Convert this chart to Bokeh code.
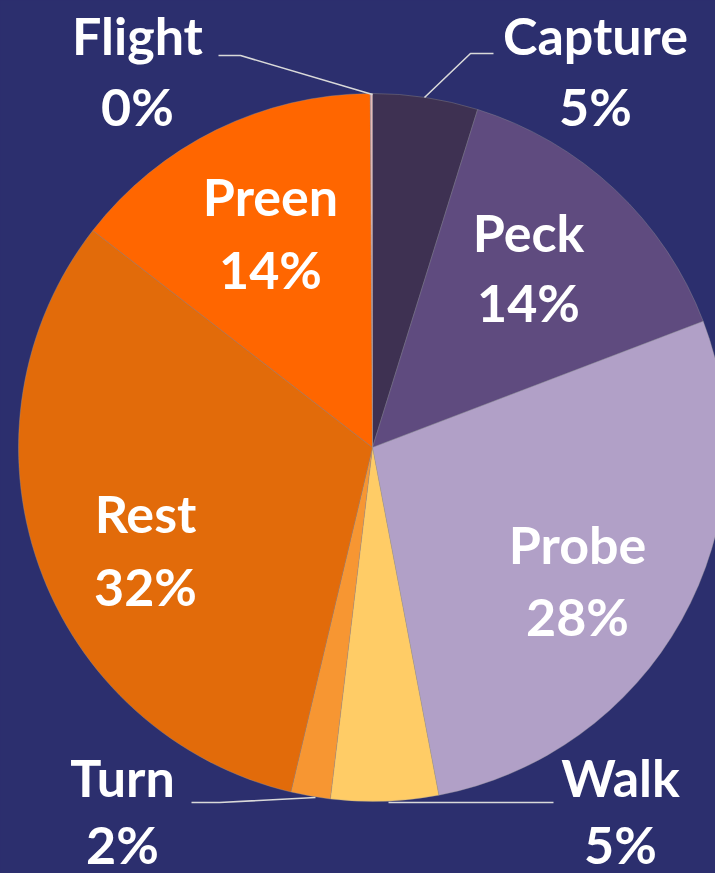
import math
from bokeh.plotting import figure
from bokeh.models import ColumnDataSource, Range1d
from bokeh.core.properties import value
from bokeh.embed import file_html
from bokeh.resources import INLINE

# ---- data (clockwise from 12 o'clock) ----
categories = ["Capture", "Peck", "Probe", "Walk", "Turn", "Rest", "Preen", "Flight"]
shares = [4.8, 14.4, 27.8, 4.9, 1.8, 31.8, 14.4, 0.1]
pct_labels = ["5%", "14%", "28%", "5%", "2%", "32%", "14%", "0%"]
colors = ["#3E3152", "#5F4B7F", "#B1A0C7", "#FFCC66", "#F79632", "#E26B0A", "#FF6600", "#E6B9B8"]

# ---- layout ----
W, H = 715, 873
BG = "#2C2F6E"
CX, CY, R = 372, H - 447, 354
# label anchors: (pixel x, pixel y of name row, pixel y of pct row)
label_pos = {
    "Flight": (137, 34, 105),
    "Capture": (595, 34, 105),
    "Peck": (528, 231, 301),
    "Probe": (577, 543, 615),
    "Walk": (620, 776, 843),
    "Turn": (122, 776, 843),
    "Rest": (145, 512, 585),
    "Preen": (270, 195, 268),
}
leaders = {
    "Flight": [(218, 55), (240, 55), (372, 94)],
    "Capture": [(493, 53), (470, 53), (424, 97)],
    "Turn": [(191, 802), (219, 802), (315, 797)],
    "Walk": [(553, 802), (388, 802)],
}

total = sum(shares)
starts, ends = [], []
acc = 0.0
for s in shares:
    starts.append(math.pi / 2 - 2 * math.pi * acc / total)
    acc += s
    ends.append(math.pi / 2 - 2 * math.pi * acc / total)

src = ColumnDataSource(dict(cat=categories, start=starts, end=ends, color=colors,
                            x=[CX] * len(categories), y=[CY] * len(categories)))

p = figure(width=W, height=H, x_range=Range1d(0, W), y_range=Range1d(0, H),
           output_backend="svg", toolbar_location=None, min_border=0,
           background_fill_color=BG, border_fill_color=BG, outline_line_color=None)
p.axis.visible = False
p.grid.visible = False

p.wedge(x="x", y="y", radius=R, start_angle="start", end_angle="end", direction="clock",
        fill_color="color", line_color="#9a9a9a", line_alpha=0.35, line_width=1, source=src)

# leader lines
for name, pts in leaders.items():
    p.line([q[0] for q in pts], [H - q[1] for q in pts], line_color="#D9D9D9", line_width=1.6)

nx, ny, px_, py_ = [], [], [], []
for c in categories:
    ox, oy1, oy2 = label_pos[c]
    nx.append(ox); ny.append(H - oy1)
    px_.append(ox); py_.append(H - oy2)

common = dict(text_color="white", text_font=value("Lato"), text_font_style="bold",
              text_font_size="52px", text_align="center", text_baseline="middle")
p.text(x=nx, y=ny, text=categories, **common)
p.text(x=px_, y=py_, text=pct_labels, **common)

html = file_html(p, INLINE)
html = html.replace("<head>", "<head><style>body{margin:0;background:%s;}</style>" % BG, 1)
open("out.html", "w").write(html)
